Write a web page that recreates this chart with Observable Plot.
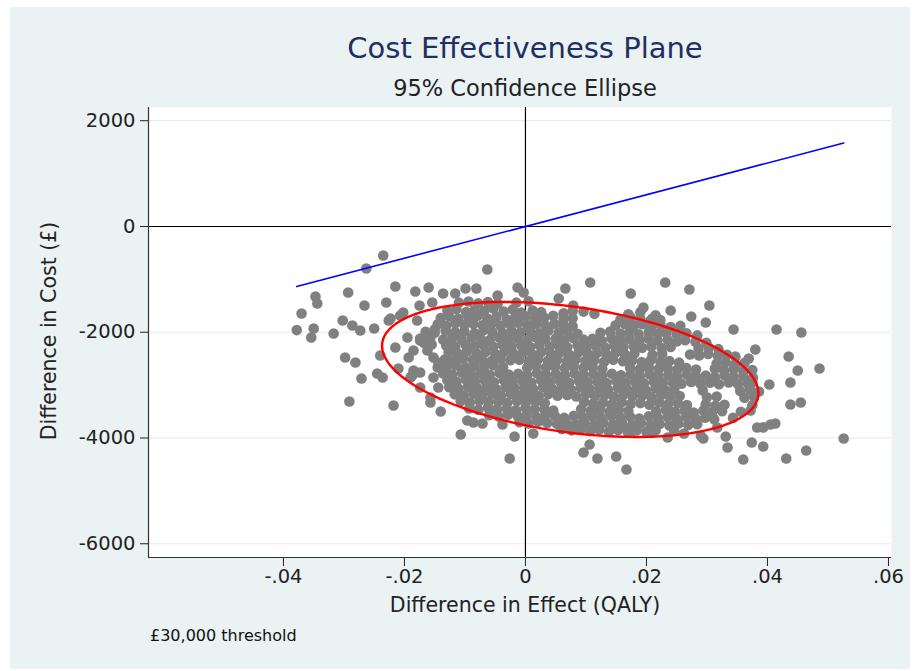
<!DOCTYPE html>
<html>
<head>
<meta charset="utf-8">
<script src="https://cdn.jsdelivr.net/npm/d3@7"></script>
<script src="https://cdn.jsdelivr.net/npm/@observablehq/plot@0.6"></script>
<style>
  body { margin: 0; background: #ffffff; font-family: "DejaVu Sans", sans-serif; }
  #panel { position: absolute; left: 10px; top: 7px; width: 900px; height: 662px; background: #EAF2F3; overflow: hidden; }
  #chart { position: absolute; left: 0; top: 0; }
  .txt { position: absolute; white-space: nowrap; line-height: 1; }
  #title { left: 115px; width: 800px; text-align: center; top: 27px; font-size: 29px; color: #1F2F5F; }
  #subtitle { left: 115px; width: 800px; text-align: center; top: 70px; font-size: 22.5px; color: #222; }
  #xtitle { left: 115px; width: 800px; text-align: center; top: 588px; font-size: 20.5px; color: #222; }
  #ytitle { left: -161px; width: 400px; text-align: center; top: 314px; font-size: 20.5px; color: #222; transform: rotate(-90deg); transform-origin: 200px 10px; }
  #caption { left: 140px; top: 621px; font-size: 16px; color: #111; }
</style>
</head>
<body>
<div id="panel">
  <div id="chart"></div>
  <div id="title" class="txt">Cost Effectiveness Plane</div>
  <div id="subtitle" class="txt">95% Confidence Ellipse</div>
  <div id="xtitle" class="txt">Difference in Effect (QALY)</div>
  <div id="ytitle" class="txt">Difference in Cost (£)</div>
  <div id="caption" class="txt">£30,000 threshold</div>
</div>
<script>
// ---- Tick values and labels ----
const xTicks = [-0.04, -0.02, 0, 0.02, 0.04, 0.06];
const xTickLabels = ["-.04", "-.02", "0", ".02", ".04", ".06"];
const yTicks = [-6000, -4000, -2000, 0, 2000];
const yTickLabels = ["-6000", "-4000", "-2000", "0", "2000"];

// ---- Threshold (willingness to pay per QALY) ----
const threshold = 30000;

// ---- 95% confidence ellipse parameters ----
const ellipseMeanEffect = 0.0074;
const ellipseMeanCost = -2704;
const ellipseHalfWidthEffect = 0.0311;
const ellipseHalfHeightCost = 1277;
const ellipseCorrelation = -0.35;

// ---- Bootstrap replicates: [difference in effect, difference in cost] ----
const outlierPoints = [
  [-0.0235,-548],[-0.0263,-794],[-0.0215,-1135],[-0.0293,-1248],[-0.0347,-1324],[-0.0344,-1456],
  [-0.0266,-1494],[-0.0230,-1437],[-0.0370,-1645],[-0.0302,-1778],[-0.0286,-1872],[-0.0273,-1967],
  [-0.0378,-1960],[-0.0350,-1929],[-0.0354,-2099],[-0.0317,-2024],[-0.0250,-1929],[-0.0215,-2288],
  [-0.0240,-2440],[-0.0298,-2478],[-0.0281,-2572],[-0.0226,-1778],[-0.0271,-2875],[-0.0245,-2780],
  [-0.0236,-2856],[-0.0291,-3310],[-0.0218,-3385],[-0.0210,-2686],[-0.0190,-2856],[-0.0157,-3329],
  [-0.0140,-3499],[-0.0107,-3934],[-0.0086,-3707],[-0.0071,-3726],[-0.0038,-3745],[-0.0018,-3972],
  [-0.0026,-4388],[-0.0063,-813],[-0.0182,-1229],[-0.0160,-1153],[-0.0175,-1494],[-0.0154,-1437],
  [-0.0136,-1267],[-0.0116,-1267],[-0.0099,-1172],[-0.0081,-1172],[-0.0013,-1153],[-0.0003,-1248],
  [-0.0179,-1778],[-0.0162,-2213],[-0.0144,-2572],[-0.0150,-1948],[-0.0046,-1305],[-0.0202,-1626],
  [-0.0223,-1740],[-0.0207,-1683],[-0.0195,-2099],[-0.0174,-2156],[-0.0162,-2345],[-0.0152,-2477],
  [-0.0185,-2345],[-0.0193,-2477],[-0.0185,-2723],[-0.0174,-2761],[-0.0145,-2667],[-0.0152,-2856],
  [-0.0144,-3045],[-0.0174,-3045],[-0.0187,-2818],[-0.0157,-3234],[-0.0096,-3669],
  [0.0107,-1059],[0.0231,-1059],[0.0066,-1172],[0.0174,-1267],[0.0055,-1362],[0.0079,-1494],
  [0.0195,-1532],[0.0210,-1740],[0.0271,-1191],[0.0304,-1494],[0.0240,-1589],[0.0274,-1702],
  [0.0298,-1816],[0.0344,-1948],[0.0415,-1948],[0.0456,-2005],[0.0380,-2326],[0.0369,-2497],
  [0.0435,-2459],[0.0450,-2723],[0.0486,-2686],[0.0403,-2988],[0.0438,-2950],[0.0375,-2950],
  [0.0438,-3367],[0.0455,-3329],[0.0405,-3745],[0.0383,-3802],[0.0393,-3800],[0.0413,-3726],
  [0.0374,-4085],[0.0393,-4161],[0.0464,-4236],[0.0431,-4388],[0.0360,-4407],[0.0294,-4009],
  [0.0331,-3972],[0.0334,-4180],[0.0106,-4123],[0.0096,-4274],[0.0119,-4388],[0.0150,-4350],
  [0.0167,-4596],[0.0013,-3915],[0.0174,-3896],[0.0235,-3991],[0.0262,-3915],[0.0317,-3802],
  [0.0526,-4009],[0.0207,-3900],[0.0290,-3960]
];

const corePoints = [
  // around -1440
  [-0.0110,-1440],[-0.0094,-1420],[-0.0078,-1455],[-0.0062,-1430],[-0.0046,-1460],[-0.0015,-1440],[0.0005,-1415],
  // around -1590
  [-0.0129,-1590],[-0.0114,-1560],[-0.0098,-1620],[-0.0084,-1580],[-0.0068,-1600],[-0.0053,-1550],[-0.0036,-1610],
  [-0.0021,-1570],[-0.0007,-1630],[0.0012,-1590],[0.0026,-1620],[0.0063,-1640],[0.0078,-1600],[0.0096,-1610],
  [0.0114,-1650],[0.0170,-1660],[0.0190,-1620],[0.0215,-1680],
  // around -1720
  [-0.0140,-1730],[-0.0126,-1700],[-0.0111,-1745],[-0.0094,-1715],[-0.0079,-1690],[-0.0063,-1740],[-0.0048,-1710],
  [-0.0031,-1760],[-0.0017,-1720],[0.0000,-1700],[0.0015,-1750],[0.0031,-1725],[0.0046,-1690],[0.0063,-1745],
  [0.0078,-1735],[0.0157,-1760],[0.0174,-1720],[0.0190,-1750],[0.0207,-1780],[0.0223,-1770],
  // around -1853
  [-0.0145,-1850],[-0.0131,-1880],[-0.0116,-1830],[-0.0101,-1860],[-0.0086,-1845],[-0.0071,-1870],[-0.0056,-1835],
  [-0.0041,-1880],[-0.0026,-1850],[-0.0012,-1820],[0.0003,-1865],[0.0018,-1845],[0.0033,-1875],[0.0048,-1840],
  [0.0063,-1860],[0.0078,-1885],[0.0149,-1870],[0.0164,-1845],[0.0179,-1880],[0.0193,-1850],[0.0208,-1890],
  [0.0223,-1860],[0.0240,-1900],[0.0256,-1880],
  // around -1986
  [-0.0165,-1990],[-0.0150,-2010],[-0.0132,-1970],[-0.0116,-2000],[-0.0101,-1980],[-0.0084,-2020],[-0.0069,-1960],
  [-0.0055,-1995],[-0.0038,-2015],[-0.0023,-1975],[-0.0008,-2000],[0.0008,-1985],[0.0023,-2020],[0.0038,-1965],
  [0.0055,-2005],[0.0069,-1990],[0.0086,-2030],[0.0124,-2010],[0.0140,-1985],[0.0157,-2025],[0.0172,-2000],
  [0.0187,-2040],[0.0204,-1995],[0.0219,-2030],[0.0233,-2010],[0.0250,-2045],[0.0266,-2020],[0.0284,-2060],
  // around -2118
  [-0.0174,-2120],[-0.0157,-2100],[-0.0136,-2140],[-0.0121,-2110],[-0.0106,-2130],[-0.0089,-2095],[-0.0074,-2125],
  [-0.0059,-2150],[-0.0043,-2105],[-0.0028,-2135],[-0.0013,-2115],[0.0003,-2145],[0.0018,-2100],[0.0033,-2130],
  [0.0050,-2120],[0.0064,-2155],[0.0079,-2110],[0.0096,-2140],[0.0111,-2125],[0.0126,-2160],[0.0142,-2115],
  [0.0157,-2145],[0.0172,-2130],[0.0188,-2165],[0.0203,-2120],[0.0218,-2150],[0.0235,-2140],[0.0250,-2175],
  [0.0264,-2150],[0.0281,-2180],[0.0299,-2200],
  // around -2250
  [-0.0168,-2200],[-0.0155,-2230],
  [-0.0131,-2250],[-0.0116,-2270],[-0.0099,-2235],[-0.0084,-2260],[-0.0069,-2245],[-0.0053,-2275],[-0.0038,-2230],
  [-0.0023,-2265],[-0.0007,-2250],[0.0008,-2280],[0.0023,-2240],[0.0040,-2270],[0.0055,-2255],[0.0069,-2285],
  [0.0086,-2245],[0.0101,-2275],[0.0116,-2260],[0.0132,-2290],[0.0147,-2250],[0.0162,-2280],[0.0179,-2265],
  [0.0193,-2295],[0.0208,-2270],[0.0225,-2300],[0.0240,-2280],[0.0286,-2310],[0.0303,-2290],[0.0319,-2320],
  // around -2383
  [-0.0127,-2380],[-0.0112,-2400],[-0.0097,-2365],[-0.0081,-2395],[-0.0066,-2375],[-0.0050,-2410],[-0.0035,-2370],
  [-0.0020,-2400],[-0.0004,-2385],[0.0011,-2415],[0.0026,-2375],[0.0042,-2405],[0.0057,-2390],[0.0072,-2420],
  [0.0088,-2380],[0.0103,-2410],[0.0118,-2395],[0.0134,-2425],[0.0149,-2385],[0.0164,-2415],[0.0180,-2400],
  [0.0210,-2430],[0.0226,-2405],[0.0272,-2420],[0.0287,-2440],[0.0302,-2410],[0.0318,-2445],[0.0333,-2425],
  [0.0347,-2460],
  // around -2515
  [-0.0133,-2510],[-0.0118,-2535],[-0.0103,-2500],[-0.0087,-2525],[-0.0072,-2515],[-0.0056,-2545],[-0.0041,-2505],
  [-0.0025,-2530],[-0.0010,-2520],[0.0006,-2550],[0.0021,-2510],[0.0037,-2540],[0.0052,-2525],[0.0068,-2555],
  [0.0083,-2515],[0.0099,-2545],[0.0114,-2530],[0.0130,-2560],[0.0145,-2520],[0.0161,-2550],[0.0176,-2535],
  [0.0192,-2565],[0.0207,-2530],[0.0223,-2560],[0.0238,-2545],[0.0254,-2575],[0.0316,-2590],[0.0331,-2570],
  [0.0347,-2600],[0.0362,-2580],
  // around -2648
  [-0.0130,-2650],[-0.0115,-2630],[-0.0099,-2665],[-0.0084,-2640],[-0.0068,-2655],[-0.0053,-2625],[-0.0037,-2660],
  [0.0003,-2670],[0.0018,-2640],[0.0034,-2665],[0.0049,-2650],[0.0065,-2680],[0.0080,-2645],[0.0096,-2675],
  [0.0111,-2660],[0.0127,-2690],[0.0173,-2670],[0.0189,-2700],[0.0204,-2665],[0.0220,-2695],[0.0235,-2680],
  [0.0251,-2710],[0.0266,-2675],[0.0282,-2705],[0.0313,-2690],[0.0328,-2720],[0.0344,-2700],[0.0360,-2730],
  [0.0375,-2715],
  // around -2780
  [-0.0136,-2780],[-0.0121,-2800],[-0.0105,-2765],[-0.0090,-2795],[-0.0074,-2775],[-0.0059,-2805],[-0.0043,-2770],
  [-0.0028,-2800],[-0.0012,-2785],[0.0003,-2815],[0.0019,-2775],[0.0034,-2805],[0.0050,-2790],[0.0065,-2820],
  [0.0081,-2780],[0.0096,-2810],[0.0112,-2795],[0.0127,-2825],[0.0143,-2785],[0.0158,-2815],[0.0174,-2800],
  [0.0189,-2830],[0.0205,-2795],[0.0220,-2825],[0.0236,-2810],[0.0251,-2840],[0.0267,-2805],[0.0282,-2835],
  [0.0298,-2820],[0.0313,-2850],[0.0329,-2815],[0.0344,-2845],[0.0360,-2830],[0.0376,-2860],
  // around -2912
  [-0.0129,-2910],[-0.0114,-2935],[-0.0098,-2900],[-0.0083,-2925],[-0.0067,-2915],[-0.0052,-2945],[-0.0036,-2905],
  [-0.0021,-2930],[-0.0005,-2920],[0.0010,-2950],[0.0026,-2910],[0.0041,-2940],[0.0057,-2925],[0.0072,-2955],
  [0.0088,-2915],[0.0103,-2945],[0.0119,-2930],[0.0134,-2960],[0.0150,-2920],[0.0165,-2950],[0.0181,-2935],
  [0.0196,-2965],[0.0212,-2930],[0.0227,-2960],[0.0243,-2945],[0.0258,-2975],[0.0274,-2940],[0.0289,-2970],
  [0.0305,-2955],[0.0320,-2985],[0.0336,-2950],[0.0351,-2980],[0.0367,-2965],
  // around -3045
  [-0.0126,-3040],[-0.0111,-3065],[-0.0095,-3030],[-0.0080,-3055],[-0.0064,-3045],[-0.0049,-3075],[-0.0033,-3035],
  [-0.0018,-3060],[-0.0002,-3050],[0.0013,-3080],[0.0029,-3040],[0.0044,-3070],[0.0060,-3055],[0.0075,-3085],
  [0.0091,-3045],[0.0106,-3075],[0.0122,-3060],[0.0137,-3090],[0.0153,-3050],[0.0168,-3080],[0.0184,-3065],
  [0.0199,-3095],[0.0215,-3060],[0.0230,-3090],[0.0246,-3075],[0.0293,-3100],[0.0355,-3110],[0.0371,-3085],
  [0.0386,-3120],
  // around -3177
  [-0.0117,-3175],[-0.0102,-3195],[-0.0086,-3160],[-0.0071,-3190],[-0.0055,-3170],[-0.0040,-3200],[-0.0024,-3165],
  [-0.0009,-3195],[0.0007,-3180],[0.0022,-3210],[0.0038,-3170],[0.0053,-3200],[0.0069,-3185],[0.0084,-3215],
  [0.0100,-3175],[0.0115,-3205],[0.0131,-3190],[0.0146,-3220],[0.0162,-3180],[0.0177,-3210],[0.0193,-3195],
  [0.0208,-3225],[0.0224,-3190],[0.0239,-3220],[0.0255,-3205],[0.0300,-3230],[0.0316,-3215],[0.0362,-3240],
  [0.0378,-3220],
  // around -3310
  [-0.0107,-3305],[-0.0092,-3330],[-0.0076,-3295],[-0.0061,-3320],[-0.0045,-3310],[-0.0030,-3340],[-0.0014,-3300],
  [0.0001,-3325],[0.0017,-3315],[0.0032,-3345],[0.0097,-3320],[0.0112,-3350],[0.0128,-3335],[0.0143,-3365],
  [0.0159,-3325],[0.0174,-3355],[0.0190,-3340],[0.0205,-3370],[0.0221,-3330],[0.0236,-3360],[0.0252,-3345],
  [0.0267,-3375],[0.0298,-3360],[0.0314,-3390],[0.0329,-3370],[0.0375,-3380],
  // around -3442
  [-0.0093,-3440],[-0.0078,-3465],[-0.0062,-3430],[-0.0047,-3455],[-0.0031,-3445],[-0.0016,-3475],[0.0000,-3435],
  [0.0015,-3460],[0.0031,-3450],[0.0046,-3480],[0.0092,-3455],[0.0108,-3485],[0.0123,-3470],[0.0139,-3500],
  [0.0154,-3460],[0.0170,-3490],[0.0216,-3500],[0.0232,-3470],[0.0247,-3505],[0.0263,-3490],[0.0278,-3520],
  [0.0294,-3480],[0.0309,-3510],[0.0325,-3495],[0.0356,-3505],[0.0372,-3480],
  // around -3574
  [-0.0060,-3570],[-0.0044,-3595],[-0.0029,-3560],[-0.0013,-3585],[0.0002,-3575],[0.0018,-3605],[0.0033,-3565],
  [0.0049,-3590],[0.0064,-3620],[0.0080,-3580],[0.0095,-3610],[0.0111,-3595],[0.0126,-3625],[0.0142,-3585],
  [0.0157,-3615],[0.0173,-3600],[0.0188,-3630],[0.0204,-3590],[0.0219,-3620],[0.0235,-3605],[0.0250,-3635],
  [0.0266,-3600],[0.0281,-3630],[0.0297,-3615],[0.0312,-3645],[0.0343,-3620],
  // around -3707
  [-0.0010,-3700],[0.0005,-3725],[0.0021,-3690],[0.0036,-3715],[0.0052,-3730],[0.0067,-3705],[0.0083,-3740],
  [0.0098,-3720],[0.0114,-3750],[0.0129,-3710],[0.0145,-3745],[0.0160,-3730],[0.0176,-3760],[0.0191,-3720],
  [0.0207,-3750],[0.0222,-3735],[0.0238,-3765],[0.0253,-3725],[0.0269,-3755],[0.0284,-3740],
  // around -3840
  [0.0060,-3830],[0.0076,-3855],[0.0091,-3840],[0.0107,-3870],[0.0122,-3845],[0.0138,-3875],[0.0153,-3850],
  [0.0169,-3880],[0.0184,-3855],[0.0200,-3885],[0.0215,-3860],[0.0246,-3870]
];

const points = outlierPoints.concat(corePoints).map(([effect, cost]) => ({effect, cost}));

// Threshold line across the observed range of effect differences
const [effMin, effMax] = d3.extent(points, d => d.effect);
const thresholdLine = [effMin, effMax].map(e => ({effect: e, cost: threshold * e}));

// Ellipse outline derived from its parameters
const ellipse = d3.range(0, 361, 2).map(deg => {
  const t = deg * Math.PI / 180;
  return {
    effect: ellipseMeanEffect + ellipseHalfWidthEffect * Math.cos(t),
    cost: ellipseMeanCost + ellipseHalfHeightCost * (ellipseCorrelation * Math.cos(t) + Math.sqrt(1 - ellipseCorrelation ** 2) * Math.sin(t))
  };
});

const xDomain = [-0.0623, 0.0605];
const yDomain = [-6260, 2250];

const chart = Plot.plot({
  width: 900,
  height: 662,
  marginLeft: 138,
  marginRight: 19,
  marginTop: 100,
  marginBottom: 112,
  style: { background: "transparent", fontFamily: "DejaVu Sans, sans-serif", fontSize: "19.5px", color: "#222" },
  x: { domain: xDomain, ticks: xTicks, tickFormat: d => xTickLabels[xTicks.indexOf(d)], tickSize: 9, tickPadding: 3, label: null },
  y: { domain: yDomain, ticks: yTicks, tickFormat: d => yTickLabels[yTicks.indexOf(d)], tickSize: 8, tickPadding: 5, label: null },
  marks: [
    Plot.frame({ fill: "white", stroke: "none" }),
    Plot.ruleY(yTicks.filter(v => v !== 0), { stroke: "#E3ECF0", strokeWidth: 1.2 }),
    Plot.ruleX([0], { stroke: "#000", strokeWidth: 1.2 }),
    Plot.ruleY([0], { stroke: "#000", strokeWidth: 1.2 }),
    Plot.dot(points, { x: "effect", y: "cost", r: 5.3, fill: "#808080", stroke: "none" }),
    Plot.line(ellipse, { x: "effect", y: "cost", stroke: "#FF0000", strokeWidth: 2.4, curve: "linear" }),
    Plot.line(thresholdLine, { x: "effect", y: "cost", stroke: "#0000FF", strokeWidth: 1.6 }),
    Plot.ruleX([xDomain[0]], { stroke: "#333", strokeWidth: 1.2 }),
    Plot.ruleY([yDomain[0]], { stroke: "#333", strokeWidth: 1.2 })
  ]
});
document.getElementById("chart").appendChild(chart);
</script>
</body>
</html>
